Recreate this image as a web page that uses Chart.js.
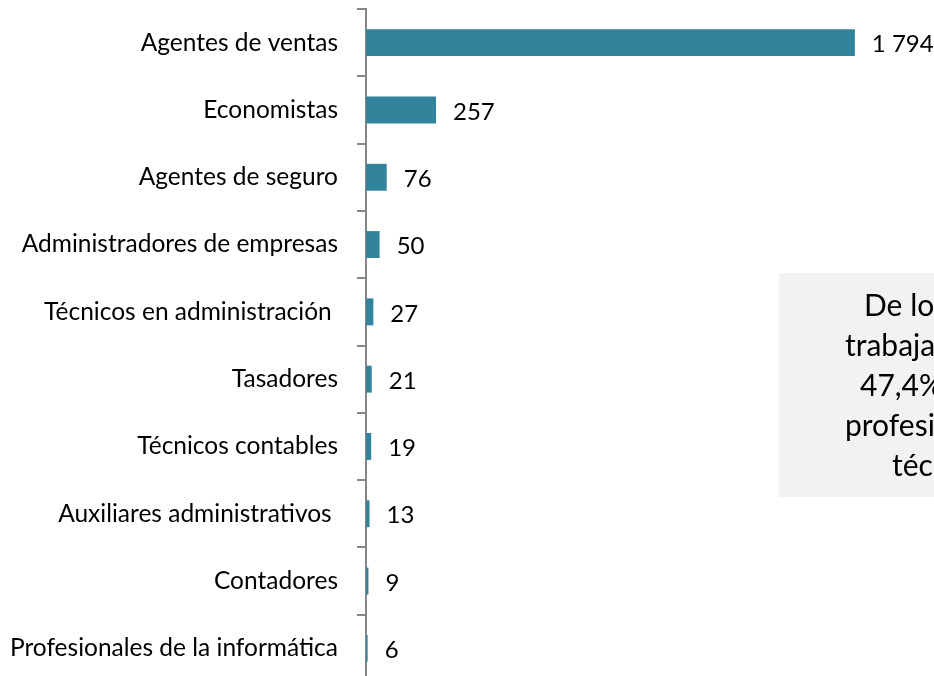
<!DOCTYPE html>
<html>
<head>
<meta charset="utf-8">
<script src="https://cdn.jsdelivr.net/npm/chart.js@4/dist/chart.umd.min.js"></script>
<style>
  html, body { margin: 0; padding: 0; background: #ffffff; overflow: hidden; }
  #wrap { position: relative; width: 934px; height: 683px; }
</style>
</head>
<body>
<div id="wrap"><canvas id="c"></canvas></div>
<script>
const categories = [
  "Agentes de ventas",
  "Economistas",
  "Agentes de seguro",
  "Administradores de empresas",
  "Técnicos en administración ",
  "Tasadores",
  "Técnicos contables",
  "Auxiliares administrativos ",
  "Contadores",
  "Profesionales de la informática"
];
const values = [1794, 257, 76, 50, 27, 21, 19, 13, 9, 6];
const noteLines = ["De los", "trabajadores", "47,4%", "profesionales", "técnicos"];

const FONT = "Lato, 'Open Sans', sans-serif";
const BAR = "#31849B";

function fmt(v) {
  return String(v).replace(/\B(?=(\d{3})+(?!\d))/g, " ");
}

const valueLabels = {
  id: "valueLabels",
  afterDatasetsDraw(chart) {
    const ctx = chart.ctx;
    const meta = chart.getDatasetMeta(0);
    ctx.save();
    ctx.font = "24px " + FONT;
    ctx.fillStyle = "#000000";
    ctx.textAlign = "left";
    ctx.textBaseline = "middle";
    meta.data.forEach((bar, i) => {
      ctx.fillText(fmt(values[i]), bar.x + 17, bar.y + 2);
    });
    ctx.restore();
  }
};

const noteBox = {
  id: "noteBox",
  afterDraw(chart) {
    const ctx = chart.ctx;
    ctx.save();
    ctx.fillStyle = "#F2F2F2";
    ctx.fillRect(779, 273, 400, 224);
    ctx.font = "30px " + FONT;
    ctx.fillStyle = "#000000";
    ctx.textAlign = "left";
    ctx.textBaseline = "alphabetic";
    const xs = [864, 845, 860, 845, 892];
    noteLines.forEach((t, i) => {
      ctx.fillText(t, xs[i], 316 + i * 40);
    });
    ctx.restore();
  }
};

new Chart(document.getElementById("c"), {
  type: "bar",
  data: {
    labels: categories,
    datasets: [{
      data: values,
      backgroundColor: BAR,
      borderWidth: 0,
      categoryPercentage: 0.8,
      barPercentage: 0.5
    }]
  },
  options: {
    indexAxis: "y",
    responsive: true,
    maintainAspectRatio: false,
    animation: false,
    layout: { padding: { top: 9, right: 23, bottom: 1, left: 0 } },
    plugins: { legend: { display: false }, tooltip: { enabled: false } },
    scales: {
      x: {
        display: false,
        min: 0,
        max: 2000
      },
      y: {
        afterFit(scale) {
          scale.width = 366;
          scale.paddingTop = 0;
          scale.paddingBottom = 0;
        },
        border: { display: true, color: "#868686", width: 2 },
        grid: {
          offset: true,
          drawOnChartArea: false,
          drawTicks: true,
          tickLength: 9,
          color: "#868686",
          lineWidth: 2
        },
        ticks: {
          color: "#000000",
          padding: 19,
          autoSkip: false,
          font: { family: FONT, size: 24.5 }
        }
      }
    }
  },
  plugins: [valueLabels, noteBox]
});
</script>
</body>
</html>
